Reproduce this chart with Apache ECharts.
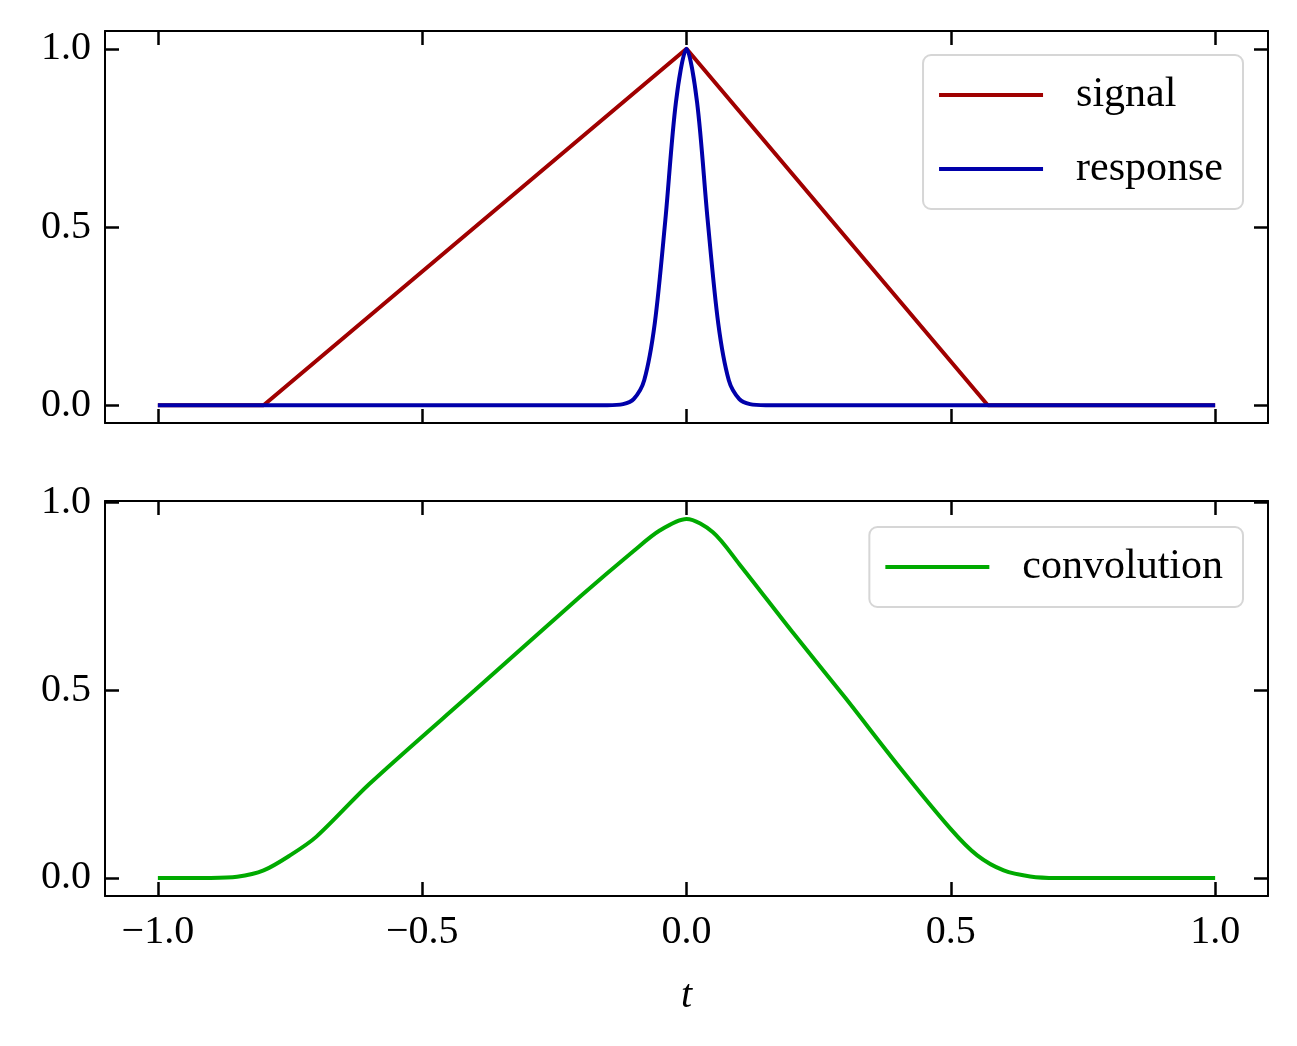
<!DOCTYPE html>
<html><head><meta charset="utf-8">
<script src="https://cdn.jsdelivr.net/npm/echarts@6/dist/echarts.min.js"></script>
<style>html,body{margin:0;padding:0;background:#fff}#c{width:1297px;height:1046px}</style>
</head><body><div id="c"></div>
<script>
const signalT = [-1, -0.8, 0, 0.57, 1];
const signalV = [0, 0, 1, 0, 0];
const responseT = [-1, -0.15, -0.12, -0.1, -0.08, -0.06, -0.04, -0.02, 0, 0.02, 0.04, 0.06, 0.08, 0.1, 0.12, 0.15, 1];
const responseV = [0, 0, 0.003, 0.017, 0.07, 0.23, 0.52, 0.85, 1, 0.85, 0.52, 0.23, 0.07, 0.017, 0.003, 0, 0];
const convT = [-1, -0.9, -0.85, -0.8, -0.75, -0.7, -0.6, -0.4, -0.2, -0.1, -0.05, 0, 0.05, 0.1, 0.2, 0.3, 0.4, 0.5, 0.55, 0.6, 0.65, 0.7, 1];
const convV = [0, 0, 0.003, 0.02, 0.06, 0.11, 0.25, 0.5, 0.75, 0.87, 0.925, 0.955, 0.92, 0.835, 0.655, 0.48, 0.3, 0.13, 0.06, 0.02, 0.004, 0, 0];
const xTicks = [-1, -0.5, 0, 0.5, 1];
const xTickLabels = ['\u22121.0', '\u22120.5', '0.0', '0.5', '1.0'];
const yTicks = [0, 0.5, 1];
const yTickLabels = ['0.0', '0.5', '1.0'];

const F = 'Liberation Serif';
const pair = (a, b) => a.map((t, i) => [t, b[i]]);
function xAx(gi, pos, labels) {
  return {gridIndex: gi, type: 'value', position: pos, min: -1.1, max: 1.1,
    axisLine: {onZero: false, lineStyle: {color: '#000', width: 2}},
    axisTick: {inside: true, length: 14, customValues: xTicks, lineStyle: {color: '#000', width: 2.5}},
    axisLabel: {show: labels, customValues: xTicks, margin: 16, fontFamily: F, fontSize: 40, color: '#000',
      formatter: v => xTickLabels[xTicks.indexOf(v)]},
    splitLine: {show: false}};
}
function yAx(gi, pos, labels, min, max) {
  return {gridIndex: gi, type: 'value', position: pos, min: min, max: max,
    axisLine: {onZero: false, lineStyle: {color: '#000', width: 2}},
    axisTick: {inside: true, length: 14, customValues: yTicks, lineStyle: {color: '#000', width: 2.5}},
    axisLabel: {show: labels, customValues: yTicks, margin: 14, fontFamily: F, fontSize: 40, color: '#000',
      formatter: v => yTickLabels[yTicks.indexOf(v)]},
    splitLine: {show: false}};
}
const leg = (data, top) => ({data: data, orient: 'vertical', right: 54, top: top, icon: 'rect', itemWidth: 104, itemHeight: 4,
  itemGap: 30, padding: [18, 20, 18, 16], borderColor: '#d6d6d6', borderWidth: 2, borderRadius: 8, backgroundColor: '#fff',
  textStyle: {fontFamily: F, fontSize: 42, color: '#000', padding: [0, 0, 0, 28], lineHeight: 44}});
const chart = echarts.init(document.getElementById('c'));
chart.setOption({
  animation: false,
  grid: [{left: 105, top: 31, width: 1163, height: 392}, {left: 105, top: 501, width: 1163, height: 395}],
  xAxis: [xAx(0, 'bottom', false), xAx(0, 'top', false),
    Object.assign(xAx(1, 'bottom', true), {name: 't', nameLocation: 'middle', nameGap: 80,
      nameTextStyle: {fontFamily: F, fontSize: 40, fontStyle: 'italic', color: '#000'}}), xAx(1, 'top', false)],
  yAxis: [yAx(0, 'left', true, -0.05, 1.05), yAx(0, 'right', false, -0.05, 1.05),
    yAx(1, 'left', true, -0.048, 1.003), yAx(1, 'right', false, -0.048, 1.003)],
  legend: [leg(['signal', 'response'], 55), leg(['convolution'], 527)],
  series: [
    {name: 'signal', type: 'line', xAxisIndex: 0, yAxisIndex: 0, data: pair(signalT, signalV), symbol: 'none', lineStyle: {color: '#a00000', width: 4}, itemStyle: {color: '#a00000'}},
    {name: 'response', type: 'line', xAxisIndex: 0, yAxisIndex: 0, data: pair(responseT, responseV), symbol: 'none', smooth: 0.3, lineStyle: {color: '#0000aa', width: 4}, itemStyle: {color: '#0000aa'}},
    {name: 'convolution', type: 'line', xAxisIndex: 2, yAxisIndex: 2, data: pair(convT, convV), symbol: 'none', smooth: 0.3, lineStyle: {color: '#00aa00', width: 4}, itemStyle: {color: '#00aa00'}}
  ]
});
</script></body></html>
